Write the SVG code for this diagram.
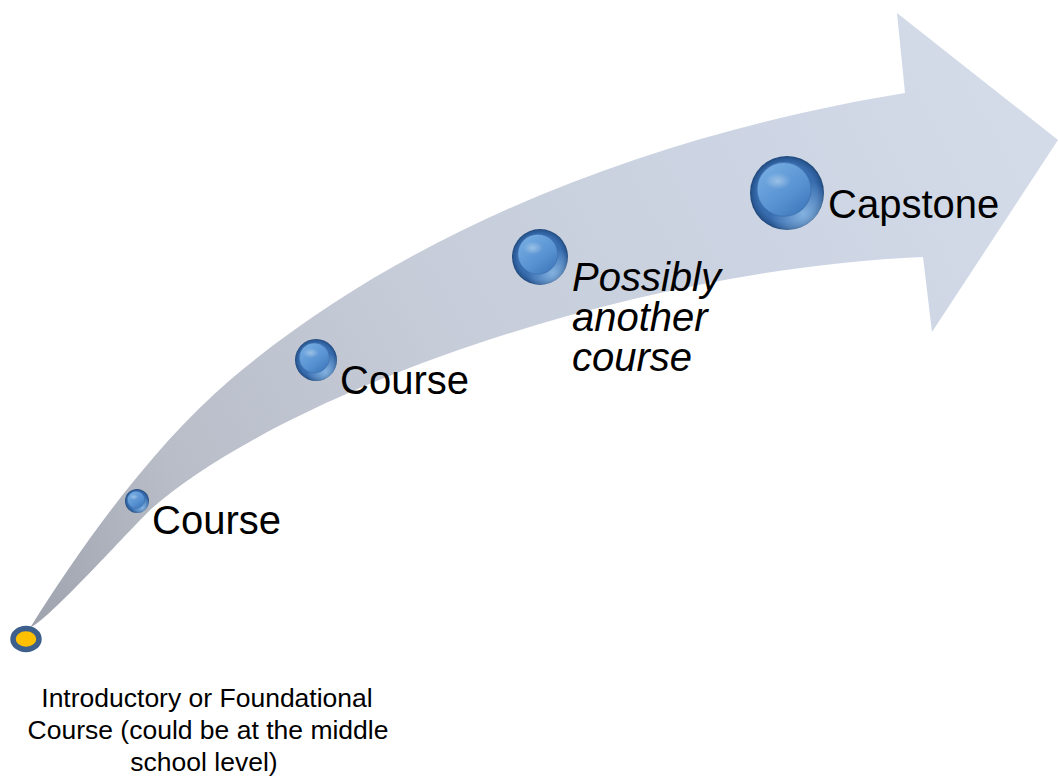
<svg xmlns="http://www.w3.org/2000/svg" width="1058" height="779" viewBox="0 0 1058 779">
  <defs>
    <linearGradient id="bandGrad" gradientUnits="userSpaceOnUse" x1="30" y1="628" x2="1000" y2="120">
      <stop offset="0" stop-color="#9ea3ae"/>
      <stop offset="0.18" stop-color="#b8bdc8"/>
      <stop offset="0.45" stop-color="#c6ccd8"/>
      <stop offset="0.75" stop-color="#ccd4e3"/>
      <stop offset="1" stop-color="#d3dbe9"/>
    </linearGradient>
    <radialGradient id="beadOuter" cx="0.5" cy="0.5" r="0.5">
      <stop offset="0" stop-color="#3d74b6"/>
      <stop offset="0.8" stop-color="#376cae"/>
      <stop offset="0.93" stop-color="#2b5a96"/>
      <stop offset="1" stop-color="#1f4779"/>
    </radialGradient>
    <radialGradient id="beadGlow" cx="0.72" cy="0.78" r="0.45">
      <stop offset="0" stop-color="#9cc8f0" stop-opacity="0.75"/>
      <stop offset="1" stop-color="#9cc8f0" stop-opacity="0"/>
    </radialGradient>
    <linearGradient id="beadInner" x1="0.2" y1="0.1" x2="0.85" y2="0.95">
      <stop offset="0" stop-color="#72aae0"/>
      <stop offset="0.6" stop-color="#5791d1"/>
      <stop offset="1" stop-color="#3f79bc"/>
    </linearGradient>
    <radialGradient id="beadShine" cx="0.5" cy="0.5" r="0.5">
      <stop offset="0" stop-color="#ffffff" stop-opacity="0.35"/>
      <stop offset="1" stop-color="#ffffff" stop-opacity="0"/>
    </radialGradient>
  </defs>
  <style>
    .lbl { font-family: "Liberation Sans", Arial, sans-serif; font-size: 40px; fill: #000000; }
    .it { font-style: italic; }
    .note { font-family: "Liberation Sans", Arial, sans-serif; font-size: 26.5px; fill: #000000; text-anchor: middle; }
    .outer { fill: url(#beadOuter); }
    .glow { fill: url(#beadGlow); }
    .inner { fill: url(#beadInner); stroke: #3a6aa8; stroke-opacity: 0.6; }
    .shine { fill: url(#beadShine); }
  </style>
  <rect width="1058" height="779" fill="#ffffff"/>

  <g id="connectors">
    <path id="arrow" fill="url(#bandGrad)" d="M30,628 C83,543 154,445 230,380 C428,212 690,128 905,93 L897,13 L1058,140 L932,332 L923,257 C623,270 280,395 150,510 C120,540 50,618 30,628 Z"/>
  </g>

  <g id="start">
    <ellipse cx="26" cy="639" rx="13" ry="10.5" fill="#ffc000" stroke="#3d5f8c" stroke-width="5.5"/>
  </g>

  <g id="course1">
    <circle class="outer" cx="137" cy="501" r="12"/>
    <circle class="glow" cx="137" cy="501" r="12"/>
    <circle class="inner" cx="136" cy="499.8" r="8.6" stroke-width="0.6"/>
    <ellipse class="shine" cx="134" cy="497" rx="4.5" ry="3"/>
    <text class="lbl" x="152" y="534">Course</text>
  </g>

  <g id="course2">
    <circle class="outer" cx="316" cy="360" r="21"/>
    <circle class="glow" cx="316" cy="360" r="21"/>
    <circle class="inner" cx="314.3" cy="357.9" r="15" stroke-width="0.8"/>
    <ellipse class="shine" cx="311" cy="353" rx="8" ry="5"/>
    <text class="lbl" x="340" y="394">Course</text>
  </g>

  <g id="course3">
    <circle class="outer" cx="540" cy="257" r="28"/>
    <circle class="glow" cx="540" cy="257" r="28"/>
    <circle class="inner" cx="537.8" cy="254.2" r="20" stroke-width="1"/>
    <ellipse class="shine" cx="533" cy="248" rx="10" ry="6.5"/>
    <text class="lbl it" x="572" y="291">Possibly</text>
    <text class="lbl it" x="572" y="331">another</text>
    <text class="lbl it" x="572" y="371">course</text>
  </g>

  <g id="capstone">
    <circle class="outer" cx="787" cy="193" r="37"/>
    <circle class="glow" cx="787" cy="193" r="37"/>
    <circle class="inner" cx="784" cy="189.3" r="27" stroke-width="1.2"/>
    <ellipse class="shine" cx="778" cy="181" rx="13" ry="8.5"/>
    <text class="lbl" x="828" y="218">Capstone</text>
  </g>

  <g id="intro-note">
    <text class="note" x="207" y="707">Introductory or Foundational</text>
    <text class="note" x="208" y="739">Course (could be at the middle</text>
    <text class="note" x="204" y="771">school level)</text>
  </g>
</svg>
